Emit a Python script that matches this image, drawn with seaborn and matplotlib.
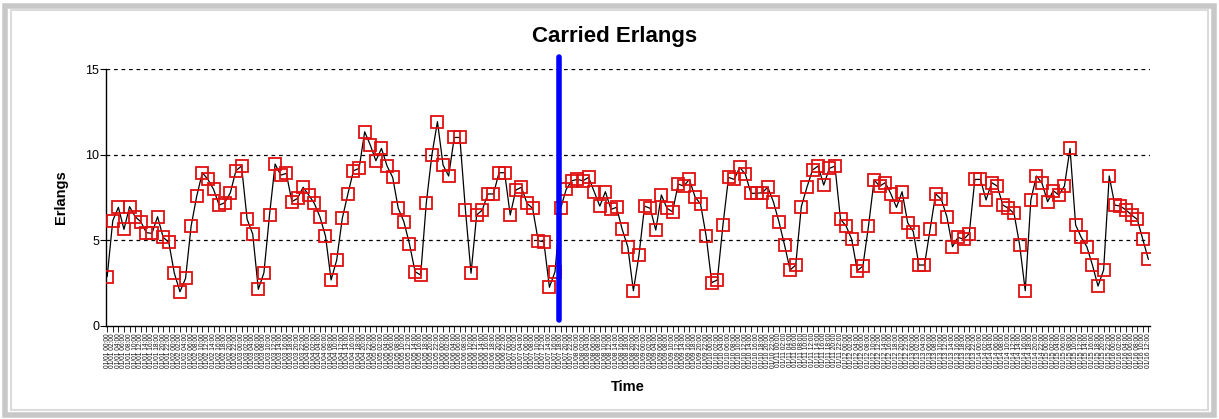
import numpy as np
import pandas as pd
import seaborn as sns
import matplotlib.pyplot as plt
from matplotlib.patches import Rectangle

# carried erlangs
erlangs = [
    2.88, 6.15, 6.93, 5.64, 6.97, 6.38, 6.09, 5.45, 5.41, 6.38, 5.18, 4.89, 3.08, 2.0, 2.78, 5.84,
    7.59, 8.95, 8.56, 7.98, 7.06, 7.2, 7.78, 9.07, 9.34, 6.23, 5.37, 2.14, 3.11, 6.48, 9.46, 8.81,
    8.91, 7.26, 7.45, 8.10, 7.65, 7.16, 6.38, 5.25, 2.69,
    3.85, 6.29, 7.71, 9.07, 9.2, 11.34, 10.57, 9.65, 10.37, 9.34, 8.68, 6.87, 6.09, 4.79, 3.17,
    2.98, 7.16, 9.98, 11.93, 9.40, 8.76, 11.01, 11.01, 6.77, 3.08, 6.48, 6.77, 7.71, 7.71, 8.95,
    8.95, 6.48, 7.94, 8.10, 7.16, 6.87, 4.98, 4.92, 2.26, 3.17,
    6.87, 7.98, 8.48, 8.56, 8.48, 8.68, 7.84, 7.0, 7.84, 6.81, 6.93, 5.64, 4.63, 2.06, 4.14, 7.0,
    6.87, 5.60, 7.65, 6.87, 6.67, 8.29, 8.17, 8.56, 7.55, 7.12, 5.25, 2.53, 2.69, 5.90, 8.68, 8.56,
    9.26, 8.87, 7.75, 7.75, 7.78, 8.10, 7.26, 6.09, 4.73,
    3.27, 3.56, 6.97, 8.10, 9.11, 9.34, 8.23, 9.20, 9.34, 6.23, 5.84, 5.06, 3.23, 3.50, 5.84, 8.52,
    8.17, 8.37, 7.71, 6.93, 7.84, 6.03, 5.51, 3.56, 3.56, 5.64, 7.71, 7.40, 6.38, 4.63, 5.18, 5.06,
    5.4, 8.56, 8.56, 7.36, 8.37, 8.17, 7.06, 6.87, 6.58, 4.73, 2.06, 7.36, 8.76, 8.33, 7.26, 7.90,
    7.65, 8.17, 10.37, 5.90, 5.18, 4.63, 3.56, 2.33, 3.27, 8.76, 7.06, 7.0, 6.77, 6.48, 6.23, 5.06,
    3.89,
]
n = len(erlangs)
# time labels (two-hourly samples)
times = pd.date_range("2004-01-01 00:00", periods=n, freq="2h")
time_labels = [t.strftime("%m/%d %H:%M") for t in times]
marker_pos = 80.7  # blue marker line position (sample index)

df = pd.DataFrame({"idx": np.arange(n), "erlangs": erlangs})

sns.set_style("white")
plt.rcParams['font.family'] = ['Liberation Sans', 'DejaVu Sans']

fig = plt.figure(figsize=(12.19, 4.19), dpi=100)
ax = fig.add_axes([0.087, 0.222, 0.856, 0.613])

sns.lineplot(data=df, x="idx", y="erlangs", ax=ax, color="black", linewidth=0.9,
             marker="s", markersize=9, markerfacecolor="none",
             markeredgecolor="#e01010", markeredgewidth=1.3, zorder=3)

for g in [5, 10, 15]:
    ax.axhline(g, color="black", linestyle=(0, (3, 3)), linewidth=0.9, zorder=1)

ax.plot([marker_pos, marker_pos], [0.35, 15.7], color="#0000ff", linewidth=4, clip_on=False, zorder=4)

ax.set_xlim(-0.2, n - 1 + 0.2)
ax.set_ylim(0, 15)
ax.set_yticks([0, 5, 10, 15])
ax.set_xticks(np.arange(n))
ax.set_xticklabels(time_labels, rotation=90, fontsize=4.8, color="#111111")
ax.tick_params(axis="y", labelsize=9, length=4, width=0.8, left=True, pad=1,
               labelcolor="black", color="black")
ax.tick_params(axis="x", length=4, width=0.6, bottom=True, pad=1, color="black")

for s in ["top", "right"]:
    ax.spines[s].set_visible(False)
for s in ["left", "bottom"]:
    ax.spines[s].set_color("black")
    ax.spines[s].set_linewidth(1.0)

fig.text(0.504, 0.914, "Carried Erlangs", fontsize=16, fontweight="bold",
         ha="center", va="center", color="black")
ax.set_ylabel("Erlangs", fontsize=10.5, fontweight="bold", labelpad=12, color="black")
ax.set_xlabel("Time", fontsize=10.5, fontweight="bold", labelpad=9, color="black")

# grey frame around the picture
fig.patches.append(Rectangle((0.004, 0.01), 0.992, 0.975, transform=fig.transFigure,
                             fill=False, edgecolor="#c8c8c8", linewidth=4))
fig.patches.append(Rectangle((0.009, 0.022), 0.982, 0.953, transform=fig.transFigure,
                             fill=False, edgecolor="#dcdcdc", linewidth=1.5))

fig.savefig("out.png", dpi=100)
